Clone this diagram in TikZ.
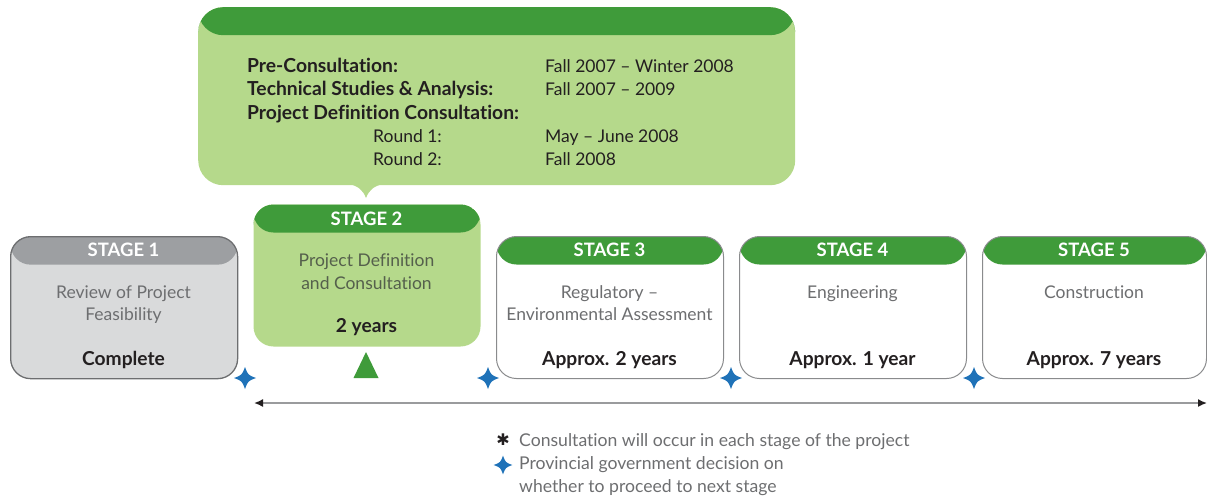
\documentclass[tikz,border=0pt]{standalone}
\usepackage{fontspec}
\setmainfont{Lato}[Ligatures=NoCommon]
\newfontfamily\symfont{DejaVu Sans}
\usetikzlibrary{arrows.meta}
\definecolor{dgreen}{HTML}{3F9B3A}
\definecolor{lgreen}{HTML}{B5D98B}
\definecolor{ghead}{HTML}{9D9FA2}
\definecolor{gbody}{HTML}{D9DADB}
\definecolor{gborder}{HTML}{6D6E70}
\definecolor{wborder}{HTML}{8A8B8D}
\definecolor{linegray}{HTML}{9A9B9D}
\definecolor{txtgray}{HTML}{6D6E70}
\definecolor{txtdark}{HTML}{231F20}
\definecolor{txtgreen}{HTML}{55604C}
\definecolor{dblue}{HTML}{1F72B8}
\tikzset{
  stagebox/.style n args={4}{rectangle, anchor=north west, rounded corners=20pt,
    minimum width=#1, minimum height=142pt, fill=#2, draw=#3, line width=1pt,
    path picture={\fill[#4] (path picture bounding box.north west) rectangle
      ([yshift=-28pt]path picture bounding box.north east);}},
  headlbl/.style={anchor=base, text=white, font=\fontsize{18.5}{20}\selectfont\bfseries},
  bodylbl/.style={anchor=base, text=txtgray, font=\fontsize{17.5}{20}\selectfont},
  boldlbl/.style={anchor=base, text=txtdark, font=\fontsize{19.2}{21}\selectfont\bfseries},
  callbold/.style={anchor=base west, text=txtdark, inner sep=0pt, font=\fontsize{19.3}{21}\selectfont\bfseries},
  callreg/.style={anchor=base west, text=txtdark, inner sep=0pt, font=\fontsize{17.5}{20}\selectfont},
  legendlbl/.style={anchor=base west, text=txtgray, inner sep=0pt, font=\fontsize{17.6}{20}\selectfont},
  decmark/.pic={\fill[dblue] (0,-11) .. controls (3,-3) .. (11,0) .. controls (3,3) .. (0,11)
     .. controls (-3,3) .. (-11,0) .. controls (-3,-3) .. cycle;},
}
\begin{document}
\begin{tikzpicture}[x=1pt,y=-1pt]
\useasboundingbox (0,0) rectangle (1207,499);
% callout
\node[rectangle, anchor=north west, rounded corners=25pt, minimum width=597pt, minimum height=178pt,
  fill=lgreen, inner sep=0pt,
  path picture={\fill[dgreen] (path picture bounding box.north west) rectangle
      ([yshift=-28pt]path picture bounding box.north east);}] (call) at (198,7) {};
\fill[lgreen] (349,184) .. controls (358,186) and (363,190) .. (366,198) .. controls (369,190) and (374,186) .. (383,184) -- cycle;
\node[callbold] (c1) at (247,72.5) {Pre-Consultation:};
\node[callbold] (c2) at (247,95.8) {Technical Studies \& Analysis:};
\node[callbold] (c3) at (247,119) {Project Definition Consultation:};
\node[callreg] (c4) at (373,142.3) {Round 1:};
\node[callreg] (c5) at (373,165.5) {Round 2:};
\node[callreg] (d1) at (545,72.5) {Fall 2007 – Winter 2008};
\node[callreg] (d2) at (545,95.8) {Fall 2007 – 2009};
\node[callreg] (d4) at (545,142.3) {May – June 2008};
\node[callreg] (d5) at (545,165.5) {Fall 2008};
% stages
\node[stagebox={227pt}{gbody}{gborder}{ghead}, line width=1.3pt] (s1) at (10,236) {};
\node[stagebox={227pt}{lgreen}{lgreen}{dgreen}, draw=none] (s2) at (253,204) {};
\node[stagebox={227pt}{white}{wborder}{dgreen}] (s3) at (496,236) {};
\node[stagebox={227pt}{white}{wborder}{dgreen}] (s4) at (739,236) {};
\node[stagebox={224pt}{white}{wborder}{dgreen}] (s5) at (982,236) {};
% stage 1
\node[headlbl] (h1) at (123.5,256.5) {STAGE 1};
\node[bodylbl] (b1a) at (123.5,298) {Review of Project};
\node[bodylbl] (b1b) at (123.5,320.5) {Feasibility};
\node[boldlbl] (t1) at (123.5,365.5) {Complete};
% stage 2
\node[headlbl] (h2) at (366.5,225.5) {STAGE 2};
\node[bodylbl, text=txtgreen] (b2a) at (366.5,266) {Project Definition};
\node[bodylbl, text=txtgreen] (b2b) at (366.5,289) {and Consultation};
\node[boldlbl] (t2) at (366.5,332) {2 years};
% stage 3
\node[headlbl] (h3) at (609.5,256.5) {STAGE 3};
\node[bodylbl] (b3a) at (609.5,298) {Regulatory –};
\node[bodylbl] (b3b) at (609.5,320.5) {Environmental Assessment};
\node[boldlbl] (t3) at (609.5,365.5) {Approx. 2 years};
% stage 4
\node[headlbl] (h4) at (852.5,256.5) {STAGE 4};
\node[bodylbl] (b4a) at (852.5,298) {Engineering};
\node[boldlbl] (t4) at (852.5,365.5) {Approx. 1 year};
% stage 5
\node[headlbl] (h5) at (1094,256.5) {STAGE 5};
\node[bodylbl] (b5a) at (1094,298) {Construction};
\node[boldlbl] (t5) at (1094,365.5) {Approx. 7 years};
% marker triangle
\fill[dgreen] (366,352) -- (378.5,378) -- (353.5,378) -- cycle;
% decisions
\coordinate (m1) at (245,378);
\coordinate (m2) at (488,378);
\coordinate (m3) at (731,378);
\coordinate (m4) at (974,378);
\foreach \m in {m1,m2,m3,m4} \pic at (\m) {decmark};
% timeline
\coordinate (tl) at (254,403);
\coordinate (tr) at (1207,403);
\draw[line width=1.6pt, draw=linegray, {Latex[length=9pt,width=8pt,color=txtdark]}-{Latex[length=9pt,width=8pt,color=txtdark]}] (tl) -- (tr);
% legend
\node[text=txtdark, inner sep=0pt, font=\symfont\fontsize{16}{16}\selectfont] (la) at (503,440) {✱};
\coordinate (lb) at (503,465);
\pic[scale=0.85] at (lb) {decmark};
\node[legendlbl] (l1) at (519,446) {Consultation will occur in each stage of the project};
\node[legendlbl] (l2) at (519,469) {Provincial government decision on};
\node[legendlbl] (l3) at (519,492) {whether to proceed to next stage};
\end{tikzpicture}
\end{document}
